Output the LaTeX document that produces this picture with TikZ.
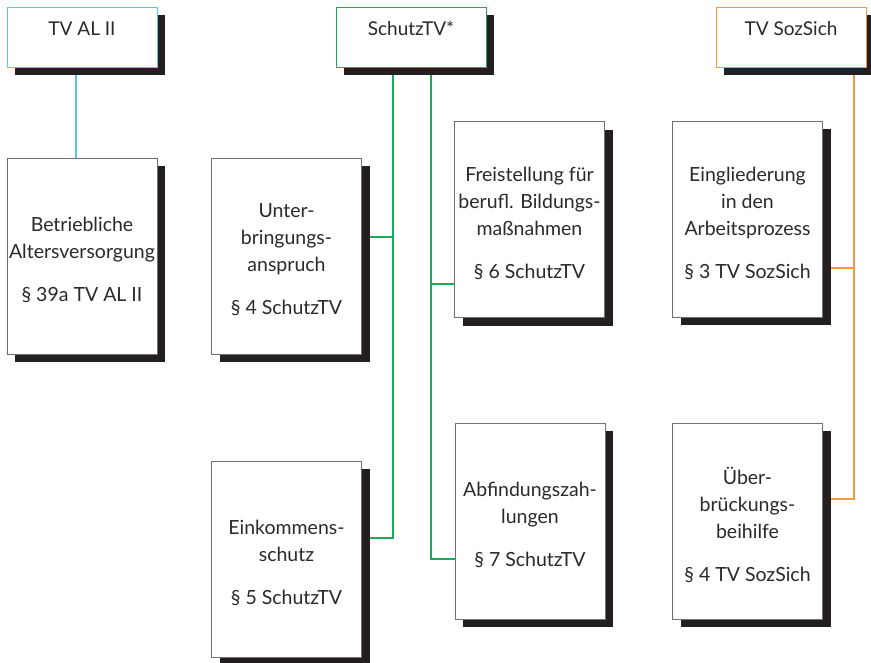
\documentclass[tikz,border=0pt]{standalone}
\usepackage{fontspec}
\setmainfont{Lato}
\usetikzlibrary{shadows,backgrounds}
\definecolor{bluec}{HTML}{5BC5F2}
\definecolor{greenc}{HTML}{1BAA5A}
\definecolor{orangec}{HTML}{F39A3C}
\definecolor{shadowc}{HTML}{231F20}
\definecolor{borderc}{HTML}{707070}
\definecolor{textc}{HTML}{2A2A2A}
\begin{document}
\begin{tikzpicture}[x=1pt,y=-1pt,
  box/.style={draw=borderc, line width=0.9pt, fill=white, minimum width=150pt, minimum height=196pt,
    inner sep=0pt,
    general shadow={fill=shadowc, shadow xshift=8pt, shadow yshift=-8pt}},
  topbox/.style={box, minimum height=60pt},
  boxtext/.style={inner sep=0pt, align=center, text=textc, font=\fontsize{19.5}{27}\selectfont},
  toptext/.style={anchor=base, inner sep=0pt, text=textc, font=\fontsize{19}{22}\selectfont},
  conn/.style={line width=1.2pt}]
\useasboundingbox (0,0) rectangle (871,662);
% top boxes
\node[topbox, draw=bluec] (tval) at (82,37) {};
\node[topbox, draw=greenc] (schutz) at (411,37) {};
\node[topbox, draw=orangec] (sozsich) at (791,37) {};
\node[toptext] (tvalt) at (82,35) {TV AL II};
\node[toptext] (schutzt) at (411,35) {SchutzTV*};
\node[toptext] (sozsicht) at (791,35) {TV SozSich};
% content boxes
\node[box] (betr) at (82,256) {};
\node[box] (unter) at (286.5,256) {};
\node[box] (frei) at (529.5,219.5) {};
\node[box] (einko) at (286.5,559) {};
\node[box] (abfin) at (530,521) {};
\node[box] (eingl) at (747.5,219) {};
\node[box] (ueber) at (747.5,521) {};
% box texts
\node[boxtext] (betrt) at ([yshift=-4pt]betr.center) {Betriebliche\\Altersversorgung\\[16pt]§ 39a TV AL II};
\node[boxtext] (untert) at ([yshift=-4pt]unter.center) {Unter-\\bringungs-\\anspruch\\[16pt]§ 4 SchutzTV};
\node[boxtext] (freit) at ([yshift=-4pt]frei.center) {Freistellung für\\berufl. Bildungs-\\maßnahmen\\[16pt]§ 6 SchutzTV};
\node[boxtext] (einkot) at ([yshift=-4pt]einko.center) {Einkommens-\\schutz\\[16pt]§ 5 SchutzTV};
\node[boxtext] (abfint) at ([yshift=-4pt]abfin.center) {Abfindungszah-\\lungen\\[16pt]§ 7 SchutzTV};
\node[boxtext] (einglt) at ([yshift=-4pt]eingl.center) {Eingliederung\\in den\\Arbeitsprozess\\[16pt]§ 3 TV SozSich};
\node[boxtext] (uebert) at ([yshift=-4pt]ueber.center) {Über-\\brückungs-\\beihilfe\\[16pt]§ 4 TV SozSich};
% connector helper coordinates
\coordinate (bx) at (76,0);
\coordinate (g1) at (393,538);
\coordinate (g2) at (393,237);
\coordinate (g3) at (431,559);
\coordinate (g4) at (431,284);
\coordinate (o1) at (854,499);
\coordinate (o2) at (854,268);
\begin{scope}[on background layer]
  \draw[conn, bluec] (tval.south -| bx) -- (betr.north -| bx);
  \draw[conn, greenc] (schutz.south -| g1) -- (g1) -- (einko.east |- g1);
  \draw[conn, greenc] (g2) -- (unter.east |- g2);
  \draw[conn, greenc] (schutz.south -| g3) -- (g3) -- (abfin.west |- g3);
  \draw[conn, greenc] (g4) -- (frei.west |- g4);
  \draw[conn, orangec] (sozsich.south -| o1) -- (o1) -- (ueber.east |- o1);
  \draw[conn, orangec] (o2) -- (eingl.east |- o2);
\end{scope}
\end{tikzpicture}
\end{document}
